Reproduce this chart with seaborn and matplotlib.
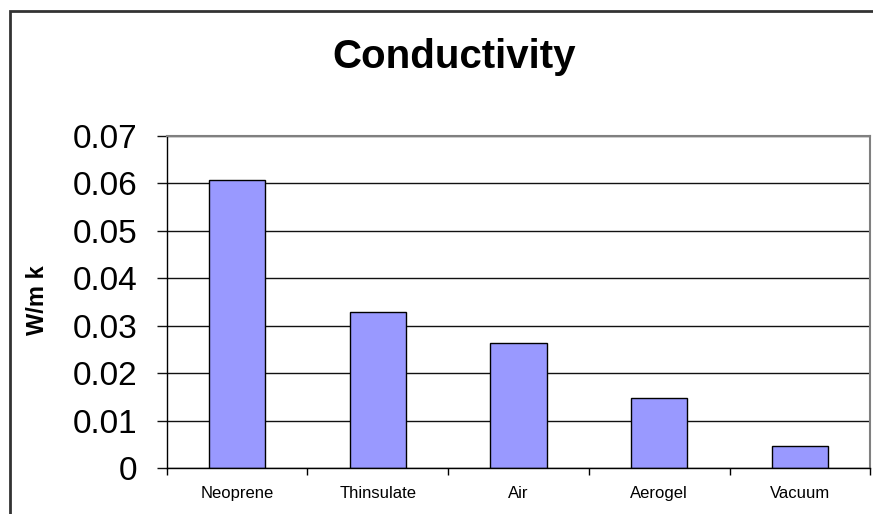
import matplotlib
matplotlib.use('Agg')
import matplotlib.pyplot as plt
from matplotlib.patches import Rectangle
from matplotlib.ticker import FixedLocator
import seaborn as sns
import numpy as np

# datos
materiales = ['Neoprene', 'Thinsulate', 'Air', 'Aerogel', 'Vacuum']
conductividad = [0.0606, 0.0328, 0.0263, 0.0149, 0.0048]
marcas_y = [0, 0.01, 0.02, 0.03, 0.04, 0.05, 0.06, 0.07]
etiquetas_y = ['0', '0.01', '0.02', '0.03', '0.04', '0.05', '0.06', '0.07']

sns.set_style('white')
plt.rcParams['font.family'] = ['Liberation Sans', 'DejaVu Sans']
plt.rcParams['text.color'] = 'black'
plt.rcParams['xtick.color'] = 'black'
plt.rcParams['ytick.color'] = 'black'

fig = plt.figure(figsize=(8.73, 5.14), dpi=100)
ax = fig.add_axes([0.191, 0.0889, 0.806, 0.647])

sns.barplot(x=materiales, y=conductividad, color='#9999FF', saturation=1,
            width=0.4, edgecolor='black', linewidth=1, ax=ax)

ax.set_xlim(-0.5, 4.5)
ax.set_ylim(0, 0.07)
ax.set_yticks(marcas_y)
ax.set_yticklabels(etiquetas_y, fontsize=24)
ax.yaxis.grid(True, color='#111111', lw=1)
ax.set_axisbelow(True)

# marcas del eje x entre categorias
ax.xaxis.set_minor_locator(FixedLocator(np.arange(-0.5, 5, 1)))
ax.tick_params(axis='x', which='major', length=0, pad=13, labelsize=12)
ax.tick_params(axis='x', which='minor', length=5, width=1, color='black', direction='out', bottom=True)
ax.tick_params(axis='y', length=7, width=1, color='#111111', direction='out', pad=14, left=True)

for lado in ['left', 'bottom']:
    ax.spines[lado].set_color('black')
    ax.spines[lado].set_linewidth(1)
for lado in ['top', 'right']:
    ax.spines[lado].set_color('#808080')
    ax.spines[lado].set_linewidth(1.5)

ax.set_xlabel('')
ax.set_ylabel('')

fig.text(0.52, 0.889, 'Conductivity', ha='center', va='center', fontsize=29, fontweight='bold')
fig.text(0.043, 0.416, 'W/m k', ha='center', va='center', rotation=90, fontsize=17, fontweight='bold')

# borde exterior del grafico
fig.patches.append(Rectangle((0.0115, -0.05), 1.1, 1.028, transform=fig.transFigure,
                             fill=False, edgecolor='#333333', linewidth=2))

fig.savefig('out.png', dpi=100)
